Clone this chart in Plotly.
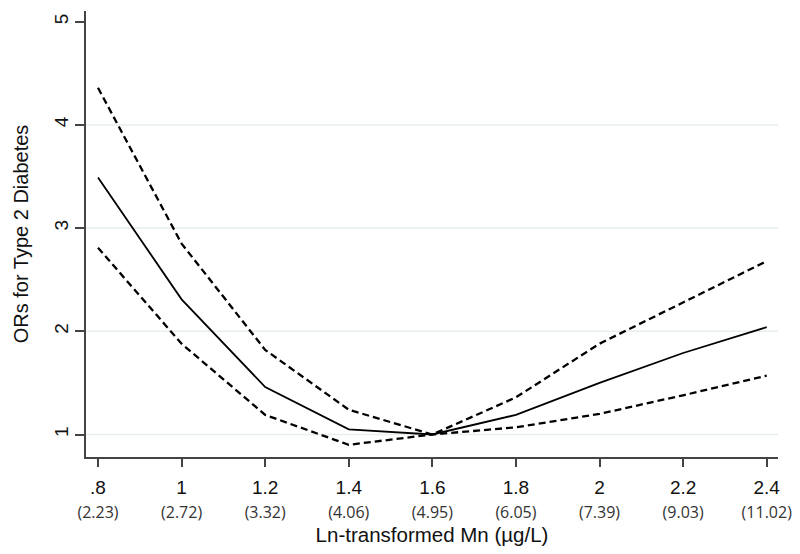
import plotly.graph_objects as go

# ---- data ----
ln_mn = [0.8, 1.0, 1.2, 1.4, 1.6, 1.8, 2.0, 2.2, 2.4]
or_est = [3.49, 2.31, 1.46, 1.05, 1.00, 1.19, 1.50, 1.79, 2.04]
ci_upper = [4.36, 2.85, 1.82, 1.24, 1.00, 1.36, 1.88, 2.28, 2.68]
ci_lower = [2.81, 1.88, 1.19, 0.90, 1.00, 1.07, 1.20, 1.38, 1.57]

x_tick_vals = [0.8, 1.0, 1.2, 1.4, 1.6, 1.8, 2.0, 2.2, 2.4]
x_tick_main = [".8", "1", "1.2", "1.4", "1.6", "1.8", "2", "2.2", "2.4"]
x_tick_sub = ["(2.23)", "(2.72)", "(3.32)", "(4.06)", "(4.95)", "(6.05)", "(7.39)", "(9.03)", "(11.02)"]
y_tick_vals = [1, 2, 3, 4, 5]
grid_vals = [1, 2, 3, 4]

x_title = "Ln-transformed Mn (µg/L)"
y_title = "ORs for Type 2 Diabetes"

ticktext = [
    f"{m}<br><span style='font-family:Open Sans;font-size:16px;color:#333333'>{s}</span>"
    for m, s in zip(x_tick_main, x_tick_sub)
]

fig = go.Figure()
dash = "7px,4px"
fig.add_trace(go.Scatter(x=ln_mn, y=ci_upper, mode="lines",
                         line=dict(color="black", width=2.3, dash=dash), showlegend=False))
fig.add_trace(go.Scatter(x=ln_mn, y=or_est, mode="lines",
                         line=dict(color="black", width=1.8), showlegend=False))
fig.add_trace(go.Scatter(x=ln_mn, y=ci_lower, mode="lines",
                         line=dict(color="black", width=2.3, dash=dash), showlegend=False))

shapes = [
    dict(type="line", xref="paper", x0=0, x1=1, yref="y", y0=g, y1=g,
         line=dict(color="#E6EEF0", width=1.5), layer="below")
    for g in grid_vals
]

# the page body has an 8px default margin, so the figure is offset by 8px
fig.update_layout(
    width=792, height=546,
    margin=dict(l=78, r=22, t=3, b=97),
    paper_bgcolor="white", plot_bgcolor="white",
    font=dict(family="Liberation Sans, Arial, sans-serif", color="#111111"),
    shapes=shapes,
    xaxis=dict(
        range=[0.7713, 2.427], automargin=False,
        tickmode="array", tickvals=x_tick_vals, ticktext=ticktext,
        tickfont=dict(size=19, color="#111111"), ticklabelstandoff=4,
        ticks="outside", ticklen=8, tickwidth=1.5, tickcolor="#444444",
        showline=True, linecolor="#444444", linewidth=1.5,
        showgrid=False, zeroline=False,
        title=dict(text=x_title, font=dict(size=20.5, color="#111111"), standoff=4),
    ),
    yaxis=dict(
        range=[0.782, 5.104], automargin=False,
        tickmode="array", tickvals=y_tick_vals, ticktext=[str(v) for v in y_tick_vals],
        tickfont=dict(size=19, color="#111111"), tickangle=-90,
        ticks="outside", ticklen=9, tickwidth=1.5, tickcolor="#444444",
        showline=True, linecolor="#444444", linewidth=1.5,
        showgrid=False, zeroline=False,
        title=dict(text=y_title, font=dict(size=20, color="#111111"), standoff=17),
    ),
)

fig.write_html("out.html")
